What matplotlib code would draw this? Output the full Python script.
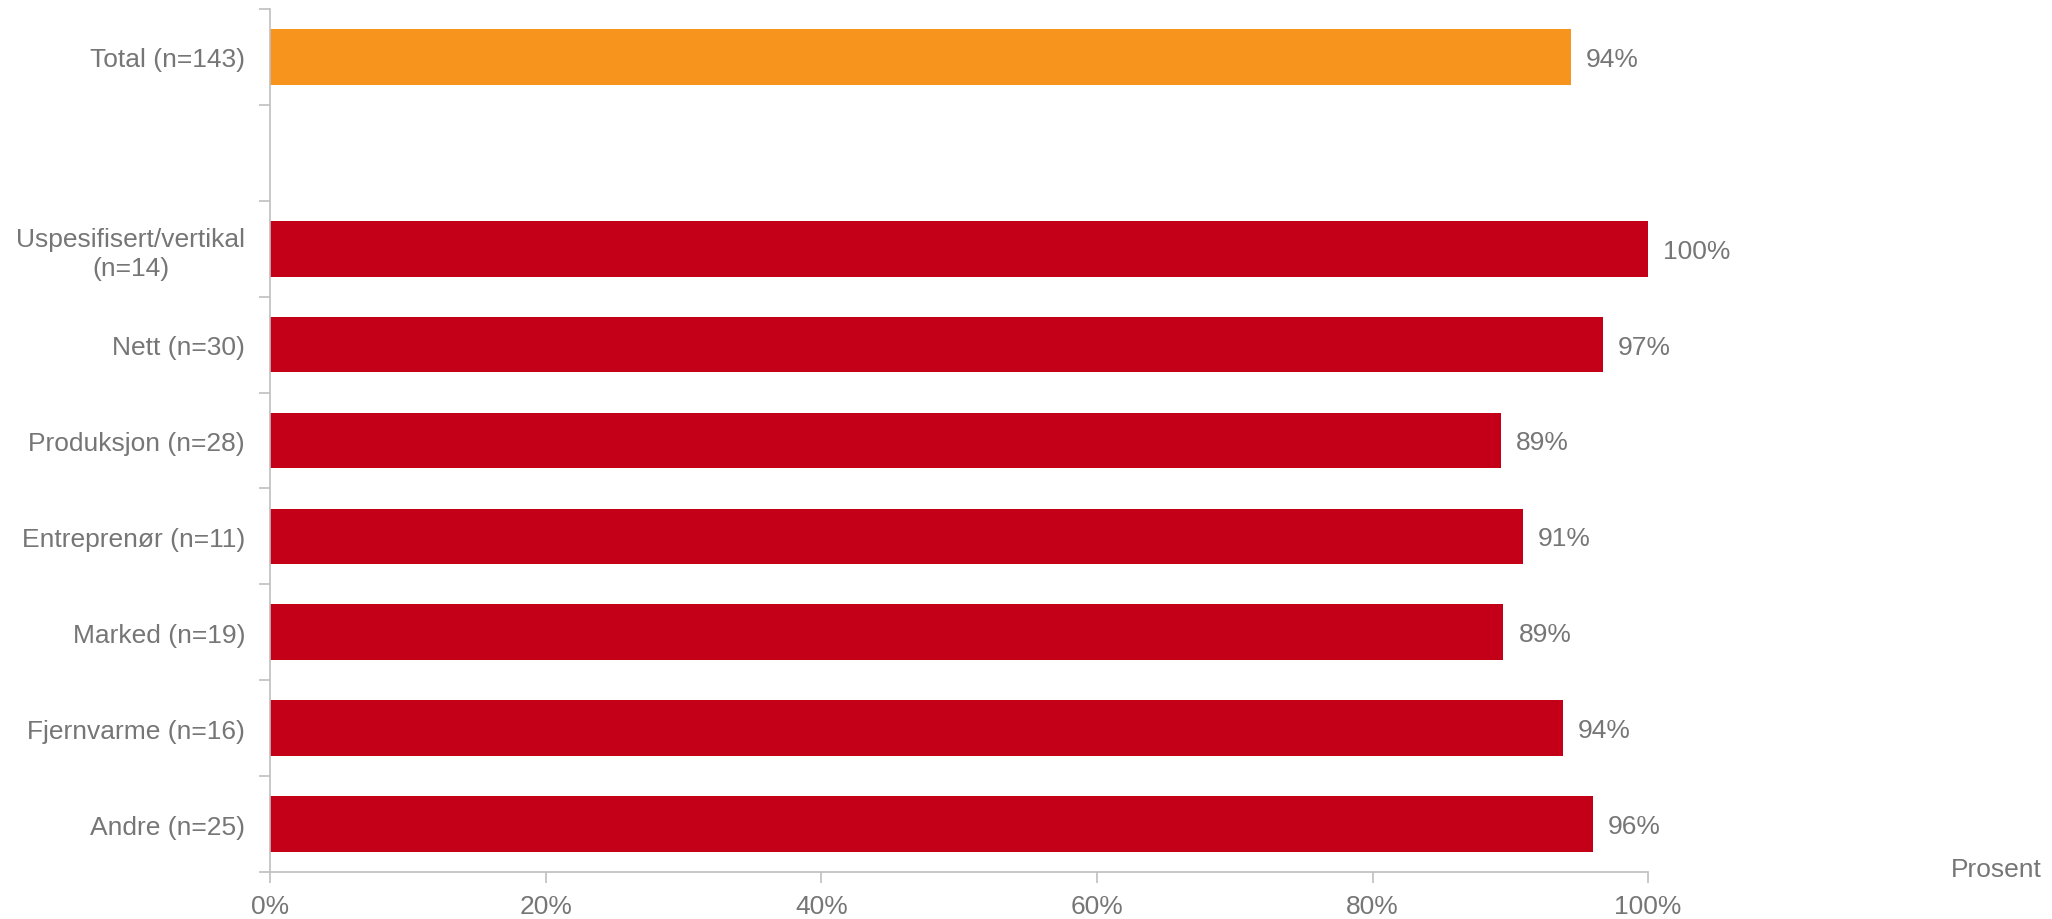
import numpy as np
import matplotlib.pyplot as plt
from matplotlib.ticker import FixedLocator, PercentFormatter

plt.rcParams["font.family"] = ["Liberation Sans", "DejaVu Sans"]

categories = [
    "Total (n=143)",
    "",
    "Uspesifisert/vertikal\n(n=14)",
    "Nett (n=30)",
    "Produksjon (n=28)",
    "Entreprenør (n=11)",
    "Marked (n=19)",
    "Fjernvarme (n=16)",
    "Andre (n=25)",
]
values = [94.4, np.nan, 100.0, 96.7, 89.3, 90.9, 89.5, 93.8, 96.0]
labels = ["94%", "", "100%", "97%", "89%", "91%", "89%", "94%", "96%"]
colors = ["#F7941D", "none"] + ["#C40018"] * 7

text_grey = "#767676"
axis_grey = "#BFBFBF"

fig = plt.figure(figsize=(20.52, 9.2), dpi=100)
ax = fig.add_axes([0.1316, 0.0511, 0.6716, 0.9380])

pos = np.arange(len(categories))
ax.barh(pos, np.nan_to_num(values), height=0.58, color=colors)

for p, v, lab in zip(pos, values, labels):
    if lab:
        ax.text(v + 1.1, p + 0.02, lab, va="center", ha="left", fontsize=19, color=text_grey)

ax.set_ylim(len(categories) - 0.5, -0.5)
ax.set_xlim(0, 100)

ax.set_yticks(pos)
ax.set_yticklabels(categories, fontsize=19, color=text_grey)
for t in ax.get_yticklabels():
    t.set_multialignment("center")
    t.set_linespacing(1.25)
ax.yaxis.set_minor_locator(FixedLocator(np.arange(-0.5, len(categories), 1.0)))
ax.tick_params(axis="y", which="major", length=0, pad=18)
ax.tick_params(axis="y", which="minor", length=8, width=1.2, color=axis_grey)

ax.set_xticks(np.arange(0, 101, 20))
ax.xaxis.set_major_formatter(PercentFormatter(decimals=0))
ax.tick_params(axis="x", length=8, width=1.2, color=axis_grey, labelsize=19,
               labelcolor=text_grey, pad=8)

for side in ["top", "right"]:
    ax.spines[side].set_visible(False)
for side in ["left", "bottom"]:
    ax.spines[side].set_color(axis_grey)
    ax.spines[side].set_linewidth(1.2)

fig.text(0.995, 0.054, "Prosent", ha="right", va="center", fontsize=19, color=text_grey)

fig.savefig("out.png", dpi=100, facecolor="white")
